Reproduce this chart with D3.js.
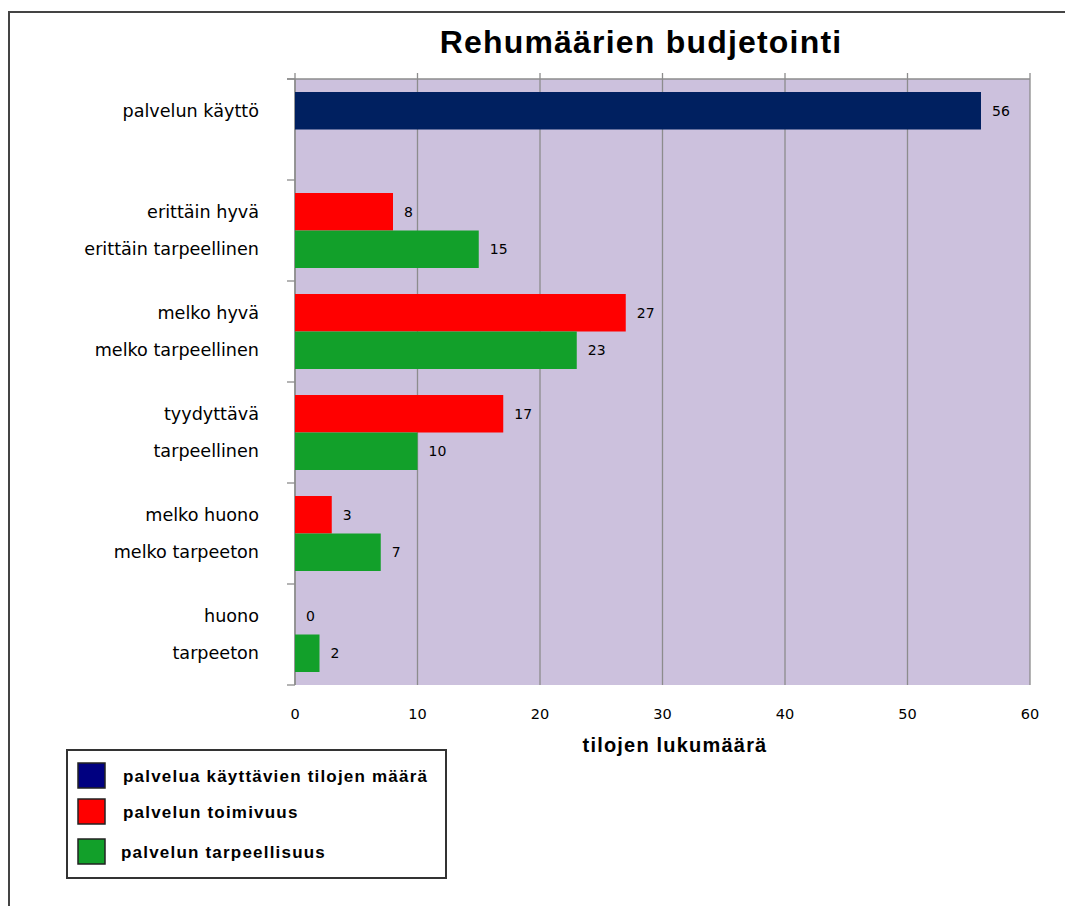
<!DOCTYPE html>
<html><head><meta charset="utf-8">
<script src="https://cdn.jsdelivr.net/npm/d3@7"></script>
<style>body{margin:0;background:#fff}svg{display:block}</style>
</head><body>
<svg id="c" width="1065" height="906"></svg>
<script>
const title = "Rehumäärien budjetointi";
const xTitle = "tilojen lukumäärä";
const groupLabelsA = ["palvelun käyttö", "erittäin hyvä", "melko hyvä", "tyydyttävä", "melko huono", "huono"];
const groupLabelsB = [null, "erittäin tarpeellinen", "melko tarpeellinen", "tarpeellinen", "melko tarpeeton", "tarpeeton"];
const kayttoValues = [56, null, null, null, null, null];
const toimivuusValues = [null, 8, 27, 17, 3, 0];
const tarpeellisuusValues = [null, 15, 23, 10, 7, 2];
const xTicks = [0, 10, 20, 30, 40, 50, 60];
const seriesNames = ["palvelua käyttävien tilojen määrä", "palvelun toimivuus", "palvelun tarpeellisuus"];
const seriesColors = ["#002060", "#FF0000", "#12A02A"];
const legendColors = ["#000080", "#FF0000", "#12A02A"];

const svg = d3.select("#c");
const L = 295, R = 1030, T = 79, B = 685;
const x = d3.scaleLinear().domain([0, 60]).range([L, R]);
const gIdx = d3.range(groupLabelsA.length);
const y = d3.scaleBand().domain(gIdx).range([T, B]).padding(0);
const slot = d3.scaleBand().domain([0, 1]).range([0, y.bandwidth()]).paddingInner(0).paddingOuter(0.347);

// frame
svg.append("path").attr("d", `M9,906 V12 H1065`).attr("fill", "none").attr("stroke", "#444").attr("stroke-width", 2);

// title
svg.append("text").attr("x", 641).attr("y", 53).attr("text-anchor", "middle")
  .attr("font-family", "Liberation Sans, Arial, sans-serif").attr("font-weight", "bold")
  .attr("font-size", 32).attr("letter-spacing", 1.2).attr("fill", "#000").text(title);

// plot bg
svg.append("rect").attr("x", L).attr("y", T).attr("width", R - L).attr("height", B - T).attr("fill", "#CCC1DD");

// gridlines
svg.append("g").selectAll("line").data(xTicks).join("line")
  .attr("x1", d => x(d)).attr("x2", d => x(d)).attr("y1", T - 6).attr("y2", B)
  .attr("stroke", "#8c8c8c").attr("stroke-width", 1.3);
svg.append("line").attr("x1", L - 8).attr("x2", R).attr("y1", T).attr("y2", T).attr("stroke", "#8c8c8c").attr("stroke-width", 1.3);

// left axis
const yTicks = gIdx.map(i => y(i)).concat([B]);
svg.append("line").attr("x1", L).attr("x2", L).attr("y1", T).attr("y2", B).attr("stroke", "#8c8c8c").attr("stroke-width", 1.5);
svg.append("g").selectAll("line").data(yTicks).join("line")
  .attr("x1", L - 8).attr("x2", L).attr("y1", d => d).attr("y2", d => d)
  .attr("stroke", "#8c8c8c").attr("stroke-width", 1.3);

// bars
const bars = [];
gIdx.forEach(i => {
  if (kayttoValues[i] != null) bars.push({g: i, s: 0, pos: 0, v: kayttoValues[i]});
  if (toimivuusValues[i] != null) bars.push({g: i, s: 1, pos: 0, v: toimivuusValues[i]});
  if (tarpeellisuusValues[i] != null) bars.push({g: i, s: 2, pos: 1, v: tarpeellisuusValues[i]});
});
svg.append("g").selectAll("rect").data(bars).join("rect")
  .attr("x", x(0)).attr("y", d => y(d.g) + slot(d.pos))
  .attr("width", d => x(d.v) - x(0)).attr("height", slot.bandwidth())
  .attr("fill", d => seriesColors[d.s]);

const vFont = "DejaVu Sans, Verdana, sans-serif";
svg.append("g").selectAll("text").data(bars).join("text")
  .attr("x", d => x(d.v) + 11).attr("y", d => y(d.g) + slot(d.pos) + slot.bandwidth() / 2 + 5)
  .attr("font-family", vFont).attr("font-size", 14).attr("fill", "#000").text(d => d.v);

// category labels
const catLabels = [];
gIdx.forEach(i => {
  catLabels.push({g: i, pos: 0, t: groupLabelsA[i]});
  if (groupLabelsB[i]) catLabels.push({g: i, pos: 1, t: groupLabelsB[i]});
});
svg.append("g").selectAll("text").data(catLabels).join("text")
  .attr("x", 259).attr("y", d => y(d.g) + slot(d.pos) + slot.bandwidth() / 2 + 6)
  .attr("text-anchor", "end").attr("font-family", vFont).attr("font-size", 17.6).attr("fill", "#000")
  .text(d => d.t);

// x tick labels
svg.append("g").selectAll("text").data(xTicks).join("text")
  .attr("x", d => x(d)).attr("y", 719).attr("text-anchor", "middle")
  .attr("font-family", vFont).attr("font-size", 14.5).attr("fill", "#000").text(d => d);

svg.append("text").attr("x", 675).attr("y", 752).attr("text-anchor", "middle")
  .attr("font-family", "Liberation Sans, Arial, sans-serif").attr("font-weight", "bold")
  .attr("font-size", 20).attr("letter-spacing", 1.2).attr("fill", "#000").text(xTitle);

// legend
svg.append("rect").attr("x", 67).attr("y", 750).attr("width", 379).attr("height", 128)
  .attr("fill", "#fff").attr("stroke", "#333").attr("stroke-width", 2);
const lg = svg.append("g").selectAll("g").data(seriesNames).join("g")
  .attr("transform", (d, i) => `translate(0,${[763, 799, 839][i]})`);
lg.append("rect").attr("x", 78).attr("y", 0).attr("width", 27).attr("height", 25)
  .attr("fill", (d, i) => legendColors[i]).attr("stroke", "#222").attr("stroke-width", 1.5);
lg.append("text").attr("x", (d, i) => i === 2 ? 121 : 123).attr("y", 19)
  .attr("font-family", "Liberation Sans, Arial, sans-serif").attr("font-weight", "bold")
  .attr("font-size", 17).attr("letter-spacing", 1.2).attr("fill", "#000").text(d => d);
</script>
</body></html>
